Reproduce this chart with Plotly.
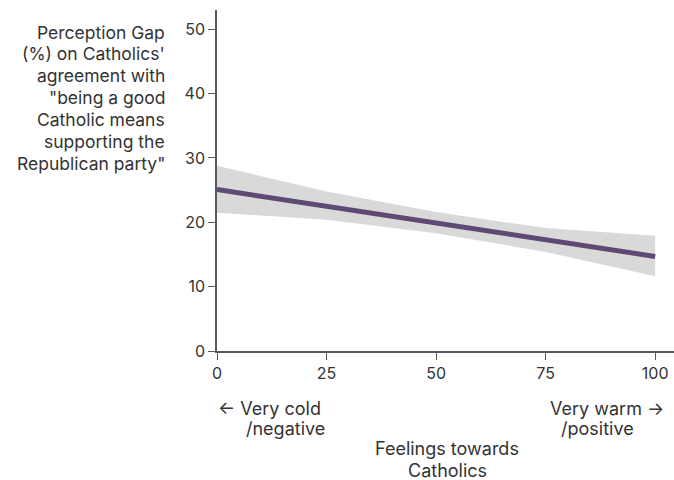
import plotly.graph_objects as go

# Data
x_line = [0, 100]
y_line = [25.1, 14.7]
band_x = [0, 25, 50, 75, 100]
band_upper = [28.8, 24.8, 21.6, 19.1, 17.9]
band_lower = [21.5, 20.4, 18.3, 15.4, 11.6]
x_ticks = [0, 25, 50, 75, 100]
y_ticks = [0, 10, 20, 30, 40, 50]
y_title_lines = ["Perception Gap", "(%) on Catholics'", "agreement with", "\"being a good",
                 "Catholic means", "supporting the", "Republican party\""]

FONT = "Inter, Roboto, sans-serif"
TXT = "#333333"
AX = "#555b60"

fig = go.Figure()
fig.add_trace(go.Scatter(x=band_x + band_x[::-1], y=band_upper + band_lower[::-1],
                         fill="toself", fillcolor="#d9d9d9", line=dict(width=0),
                         mode="lines", hoverinfo="skip", showlegend=False))
fig.add_trace(go.Scatter(x=x_line, y=y_line, mode="lines",
                         line=dict(color="#5e4b73", width=5), showlegend=False))

fig.update_layout(
    width=674, height=480,
    margin=dict(l=217, r=0, t=10, b=129),
    plot_bgcolor="white", paper_bgcolor="white",
    font=dict(family=FONT, size=16, color=TXT),
    xaxis=dict(range=[0, 104.3], tickvals=x_ticks, showline=True, linecolor=AX, linewidth=1.5,
               ticks="outside", ticklen=7, tickcolor=AX, showgrid=False, zeroline=False,
               tickfont=dict(size=16, color=TXT)),
    yaxis=dict(range=[0, 53], tickvals=y_ticks, showline=True, linecolor=AX, linewidth=1.5,
               ticks="outside", ticklen=7, tickcolor=AX, showgrid=False, zeroline=False,
               tickfont=dict(size=16, color=TXT)),
)

def ann(text, xpix, ypix, xanchor, size=18):
    fig.add_annotation(text=text, xref="paper", yref="paper",
                       x=(xpix - 217) / 457, y=(351 - ypix) / 341,
                       xanchor=xanchor, yanchor="middle", showarrow=False,
                       font=dict(size=size, color=TXT))

for i, line in enumerate(y_title_lines):
    ann(line, 167, 32 + 21.9 * i, "right", size=17.5)

ann("← Very cold", 216, 408, "left")
ann("/negative", 244, 428, "left")
ann("Very warm →", 666, 408, "right")
ann("/positive", 636, 428, "right")
ann("Feelings towards", 447, 448, "center")
ann("Catholics", 447, 470, "center")

fig.write_html("out.html")
